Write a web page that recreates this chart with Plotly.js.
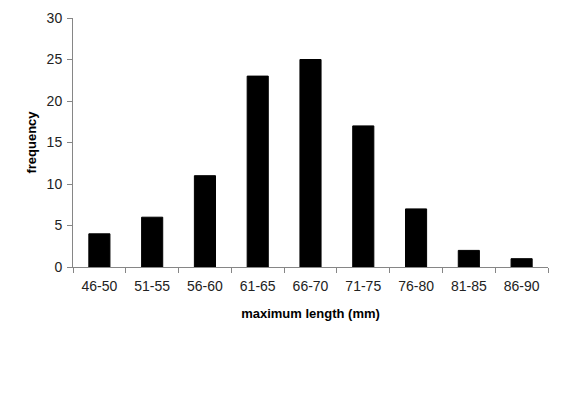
<!DOCTYPE html>
<html><head><meta charset="utf-8">
<script src="https://cdn.plot.ly/plotly-3.0.1.min.js"></script>
<style>html,body{margin:0;padding:0;background:#fff}</style>
</head><body>
<div id="chart" style="width:565px;height:400px"></div>
<script>
const categories = ["46-50","51-55","56-60","61-65","66-70","71-75","76-80","81-85","86-90"];
const frequency = [4,6,11,23,25,17,7,2,1];
const yTicks = [0,5,10,15,20,25,30];

const font = {family: "Liberation Sans, Arial, sans-serif", size: 14, color: "#222"};
Plotly.newPlot("chart", [{
  type: "bar", x: categories, y: frequency,
  marker: {color: "#000", line: {color: "#000", width: 1}},
  width: 0.4, hoverinfo: "none"
}], {
  width: 565, height: 400,
  margin: {l: 73, r: 17, t: 18, b: 133},
  paper_bgcolor: "#fff", plot_bgcolor: "#fff",
  font: font,
  showlegend: false,
  bargap: 0.6,
  xaxis: {
    type: "category", showline: true, linecolor: "#868686", linewidth: 1,
    ticks: "outside", tickson: "boundaries", ticklen: 5, tickcolor: "#868686",
    ticklabelstandoff: 6,
    showgrid: false, zeroline: false, tickfont: font,
    title: {text: "maximum length (mm)", font: {family: font.family, size: 13, color: "#000", weight: "bold"}, standoff: 16}
  },
  yaxis: {
    range: [0, 30], tickvals: yTicks, showline: true, linecolor: "#868686", linewidth: 1,
    ticks: "outside", ticklen: 5, tickcolor: "#868686",
    ticklabelstandoff: 2,
    showgrid: false, zeroline: false, tickfont: font,
    title: {text: "frequency", font: {family: font.family, size: 13, color: "#000", weight: "bold"}, standoff: 7}
  }
}, {staticPlot: true});
</script>
</body></html>
